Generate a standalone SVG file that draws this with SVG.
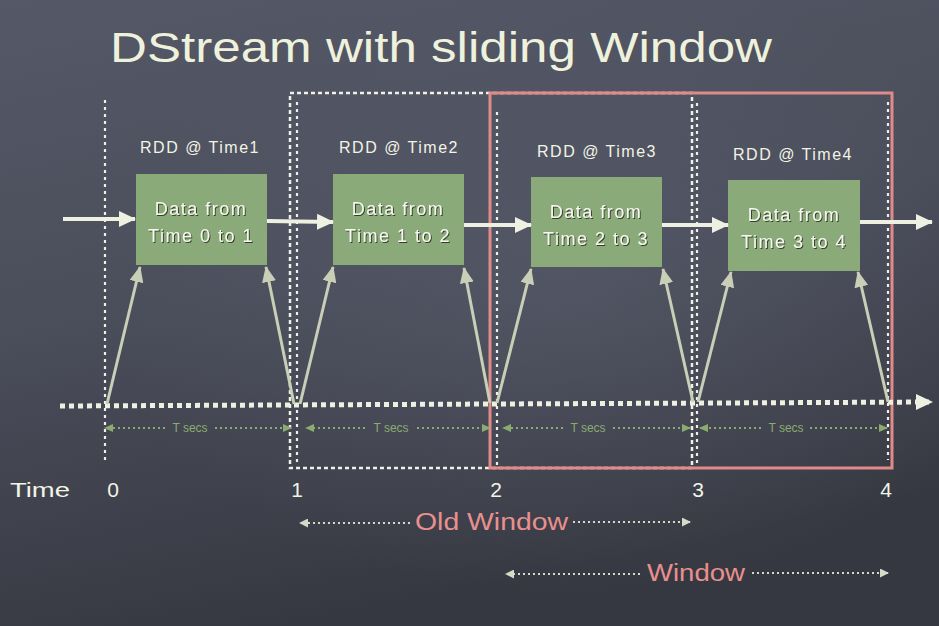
<svg xmlns="http://www.w3.org/2000/svg" width="939" height="626" viewBox="0 0 939 626">
<defs>
<linearGradient id="bg" x1="0" y1="0" x2="0.3" y2="1">
<stop offset="0" stop-color="#555866"/>
<stop offset="0.5" stop-color="#4a4d5a"/>
<stop offset="1" stop-color="#363841"/>
</linearGradient>
<radialGradient id="glow" cx="0.6" cy="0.45" r="0.5">
<stop offset="0" stop-color="#5d6070" stop-opacity="0.5"/>
<stop offset="1" stop-color="#5d6070" stop-opacity="0"/>
</radialGradient>
<filter id="sh" x="-10%" y="-30%" width="120%" height="160%">
<feDropShadow dx="1" dy="1" stdDeviation="0.7" flood-color="#26301f" flood-opacity="0.9"/>
</filter>
<marker id="wh" markerUnits="userSpaceOnUse" markerWidth="17" markerHeight="18" refX="16" refY="9" orient="auto">
<path d="M0,1 L17,9 L0,17 z" fill="#eef0e2"/>
</marker>
<marker id="gr" markerUnits="userSpaceOnUse" markerWidth="16" markerHeight="14" refX="15" refY="7" orient="auto">
<path d="M0,0 L16,7 L0,14 z" fill="#c9ceb6"/>
</marker>
<marker id="tg" markerUnits="userSpaceOnUse" markerWidth="9" markerHeight="8" refX="8" refY="4" orient="auto">
<path d="M0,0 L9,4 L0,8 z" fill="#8aac70"/>
</marker>
<marker id="dw" markerUnits="userSpaceOnUse" markerWidth="9" markerHeight="9" refX="8" refY="4.5" orient="auto">
<path d="M0,0 L9,4.5 L0,9 z" fill="#d6dac8"/>
</marker>
</defs>
<style>
.hand{font-family:"Liberation Sans","DejaVu Sans",sans-serif;}
.box{fill:#8aaa7a;}
.lbl{font-size:16px;fill:#f2f4e6;text-anchor:middle;letter-spacing:1.5px;}
.btx{font-size:18px;fill:#f6f7ee;text-anchor:middle;letter-spacing:1.5px;}
.tick{stroke:#f0f0ea;stroke-width:2.2;stroke-dasharray:3 4;fill:none;}
.data{stroke:#eef0e2;stroke-width:4;fill:none;marker-end:url(#wh);}
.diag{stroke:#c9ceb6;stroke-width:3;fill:none;marker-end:url(#gr);}
.tsec{stroke:#8aac70;stroke-width:2;stroke-dasharray:2 3;fill:none;marker-end:url(#tg);}
.tst{font-size:12px;fill:#8aac70;text-anchor:middle;}
.wa{stroke:#d6dac8;stroke-width:2;stroke-dasharray:2 3;fill:none;marker-end:url(#dw);}
.num{font-size:21px;fill:#f2f4e6;text-anchor:middle;}
.pink{font-size:23px;fill:#e8908e;}
</style>
<rect width="939" height="626" fill="url(#bg)"/>
<rect width="939" height="626" fill="url(#glow)"/>

<text class="hand" x="110" y="62" font-size="42" fill="#eef2dc" textLength="662" lengthAdjust="spacingAndGlyphs">DStream with sliding Window</text>

<g id="ticks">
<line class="tick" x1="105" y1="100" x2="105" y2="460"/>
<line class="tick" x1="297" y1="102" x2="297" y2="462"/>
<line class="tick" x1="497" y1="112" x2="497" y2="468"/>
<line class="tick" x1="697" y1="103" x2="697" y2="468"/>
<line class="tick" x1="888" y1="102" x2="888" y2="460"/>
</g>

<g id="old-window">
<rect x="290" y="93" width="402" height="375" fill="none" stroke="#f0f0e6" stroke-width="2.5" stroke-dasharray="4 3"/>
</g>
<g id="window">
<rect x="490" y="93" width="402" height="375" fill="none" stroke="#e08a8a" stroke-width="3"/>
</g>

<g id="rdd1">
<text class="hand lbl" x="200" y="153">RDD @ Time1</text>
<rect class="box" x="136" y="174" width="131" height="91"/>
<text class="hand btx" x="201" y="215" filter="url(#sh)">Data from</text>
<text class="hand btx" x="201" y="242" filter="url(#sh)">Time 0 to 1</text>
</g>
<g id="rdd2">
<text class="hand lbl" x="399" y="153">RDD @ Time2</text>
<rect class="box" x="333" y="174" width="131" height="91"/>
<text class="hand btx" x="398" y="215" filter="url(#sh)">Data from</text>
<text class="hand btx" x="398" y="242" filter="url(#sh)">Time 1 to 2</text>
</g>
<g id="rdd3">
<text class="hand lbl" x="597" y="157">RDD @ Time3</text>
<rect class="box" x="531" y="177" width="131" height="90"/>
<text class="hand btx" x="596" y="218" filter="url(#sh)">Data from</text>
<text class="hand btx" x="596" y="245" filter="url(#sh)">Time 2 to 3</text>
</g>
<g id="rdd4">
<text class="hand lbl" x="793" y="160">RDD @ Time4</text>
<rect class="box" x="728" y="180" width="132" height="91"/>
<text class="hand btx" x="794" y="221" filter="url(#sh)">Data from</text>
<text class="hand btx" x="794" y="248" filter="url(#sh)">Time 3 to 4</text>
</g>

<g id="connectors">
<line class="data" x1="63" y1="219" x2="135" y2="219"/>
<line class="data" x1="267" y1="221" x2="333" y2="222"/>
<line class="data" x1="464" y1="225" x2="531" y2="225"/>
<line class="data" x1="662" y1="225" x2="728" y2="225"/>
<line class="data" x1="860" y1="222" x2="932" y2="222"/>

<line x1="60" y1="406" x2="932" y2="402" stroke="#eef0e2" stroke-width="5" stroke-dasharray="5 4" marker-end="url(#wh)"/>

<line class="diag" x1="107" y1="404" x2="140" y2="267"/>
<line class="diag" x1="294" y1="404" x2="266" y2="267"/>
<line class="diag" x1="300" y1="404" x2="333" y2="267"/>
<line class="diag" x1="490" y1="403" x2="464" y2="268"/>
<line class="diag" x1="497" y1="403" x2="531" y2="269"/>
<line class="diag" x1="693" y1="402" x2="663" y2="269"/>
<line class="diag" x1="698" y1="402" x2="731" y2="272"/>
<line class="diag" x1="888" y1="402" x2="858" y2="272"/>

<line class="tsec" x1="165" y1="428" x2="105" y2="428"/>
<line class="tsec" x1="215" y1="428" x2="291" y2="428"/>
<line class="tsec" x1="365" y1="428" x2="306" y2="428"/>
<line class="tsec" x1="417" y1="428" x2="490" y2="428"/>
<line class="tsec" x1="563" y1="428" x2="503" y2="428"/>
<line class="tsec" x1="613" y1="428" x2="690" y2="428"/>
<line class="tsec" x1="761" y1="428" x2="700" y2="428"/>
<line class="tsec" x1="810" y1="428" x2="887" y2="428"/>

<line class="wa" x1="410" y1="523" x2="300" y2="523"/>
<line class="wa" x1="573" y1="522" x2="690" y2="522"/>
<line class="wa" x1="640" y1="574" x2="506" y2="574"/>
<line class="wa" x1="752" y1="573" x2="888" y2="573"/>
</g>

<g id="tsec-labels">
<text class="hand tst" x="190" y="432">T secs</text>
<text class="hand tst" x="391" y="432">T secs</text>
<text class="hand tst" x="588" y="432">T secs</text>
<text class="hand tst" x="786" y="432">T secs</text>
</g>

<g id="time-axis">
<text class="hand" x="10" y="497" font-size="21" fill="#f2f4e6" textLength="60" lengthAdjust="spacingAndGlyphs">Time</text>
<text class="hand num" x="113" y="497">0</text>
<text class="hand num" x="297" y="497">1</text>
<text class="hand num" x="496" y="497">2</text>
<text class="hand num" x="698" y="497">3</text>
<text class="hand num" x="886" y="497">4</text>
</g>

<g id="old-window-label">
<text class="hand pink" x="415" y="530" textLength="153" lengthAdjust="spacingAndGlyphs">Old Window</text>
</g>
<g id="window-label">
<text class="hand pink" x="647" y="581" textLength="98" lengthAdjust="spacingAndGlyphs">Window</text>
</g>
</svg>
